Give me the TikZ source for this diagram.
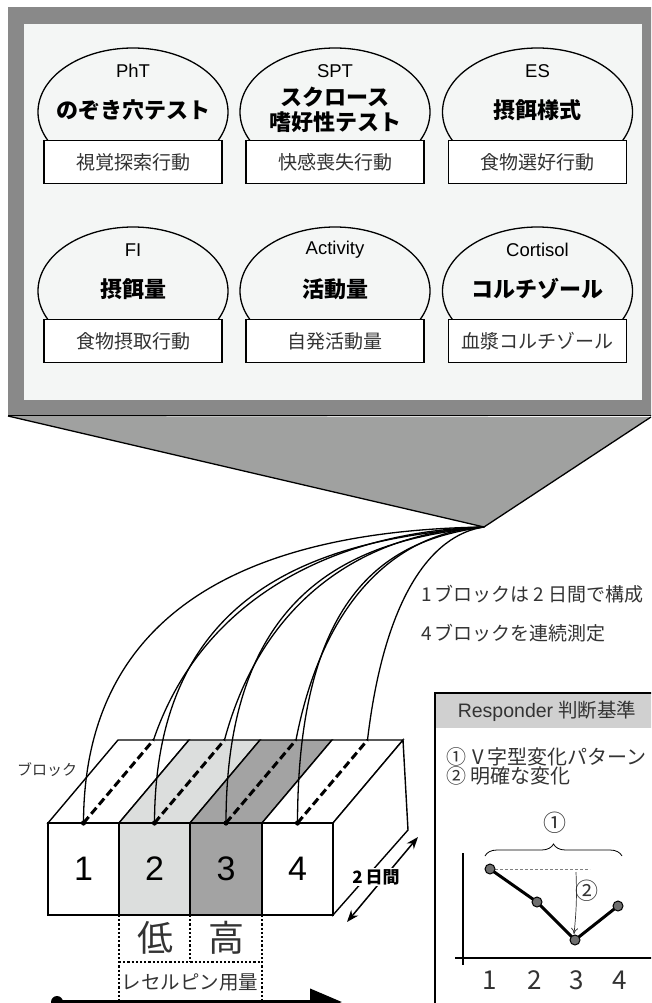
\documentclass[tikz,border=0pt]{standalone}
\usepackage{fontspec}
\usetikzlibrary{arrows.meta,decorations.pathreplacing,shapes.geometric}
\setmainfont{Liberation Sans}
\newfontfamily\jp{Noto Sans CJK JP}
\definecolor{framegray}{HTML}{898989}
\definecolor{panelbg}{HTML}{F4F6F5}
\definecolor{funnelgray}{HTML}{A0A1A0}
\definecolor{lightcell}{HTML}{DCDEDD}
\definecolor{darkcell}{HTML}{A3A3A3}
\definecolor{hdrgray}{HTML}{D0D0D0}
\definecolor{txtgray}{HTML}{333333}
\definecolor{markgray}{HTML}{6E6E6E}
\newcommand\measunit[6]{%
  \node[oval] (#1o) at (#2,#3) {};
  \node[subbox] (#1b) at (#2,#3+50) {#6};
  \node[latinlbl] (#1l) at (#2,#3-41) {#4};
  \node[titlelbl] (#1t) at (#2,#3-2) {#5};
}
\begin{document}
\begin{tikzpicture}[x=1pt,y=-1pt,
  oval/.style={draw, line width=1.3pt, ellipse, fill=panelbg, minimum width=190pt, minimum height=128pt, inner sep=0pt},
  subbox/.style={draw, line width=1.3pt, fill=white, minimum width=178pt, minimum height=43pt, inner sep=0pt, text=txtgray, font=\jp\fontsize{19}{22}\selectfont},
  latinlbl/.style={font=\fontsize{18.5}{20}\selectfont, inner sep=0pt},
  titlelbl/.style={font=\jp\bfseries\fontsize{22}{25}\selectfont, align=center, inner sep=0pt},
  edge/.style={line width=1.4pt},
  divider/.style={line width=2.2pt},
  dashline/.style={line width=3pt, dash pattern=on 8pt off 4pt},
  wire/.style={line width=1.3pt},
  dotline/.style={line width=1.2pt, dash pattern=on 2.2pt off 2pt},
  jplabel/.style={font=\jp\fontsize{19.5}{22}\selectfont, text=txtgray, inner sep=0pt},
  circlbl/.style={font=\jp\fontsize{23}{25}\selectfont, text=txtgray, inner sep=0pt},
  cellnum/.style={font=\fontsize{34}{36}\selectfont, inner sep=0pt},
  axisnum/.style={font=\jp\fontsize{26}{28}\selectfont, text=txtgray, inner sep=0pt},
  marker/.style={circle, fill=markgray, draw=black, line width=1pt, minimum size=10pt, inner sep=0pt}
]
\useasboundingbox (0,0) rectangle (651,1003);
\clip (0,0) rectangle (651,1003);

% ---------- funnel ----------
\coordinate (tip) at (484,527);
\coordinate (fl) at (8,416);
\coordinate (fr) at (651,417);
\fill[funnelgray] (fl) -- (tip) -- (fr) -- cycle;
\draw[line width=1.3pt] (fl) -- (tip) -- (fr);

% ---------- frame and panel ----------
\fill[framegray] (8,7) rectangle (660,416);
\fill[panelbg] (24,24) rectangle (642,400);
\draw[line width=1.5pt] (8,415.5) -- (660,415.5);

\measunit{pht}{133}{112}{PhT}{のぞき穴テスト}{視覚探索行動}
\measunit{spt}{335}{112}{SPT}{スクロース\\嗜好性テスト}{快感喪失行動}
\measunit{es}{537.5}{112}{ES}{摂餌様式}{食物選好行動}
\measunit{fi}{133}{291}{FI}{摂餌量}{食物摂取行動}
\measunit{act}{335}{291}{Activity}{活動量}{自発活動量}
\measunit{cor}{537.5}{291}{Cortisol}{コルチゾール}{血漿コルチゾール}

% ---------- block ----------
\coordinate (f0) at (48,823);  \coordinate (f1) at (119,823); \coordinate (f2) at (190,823);
\coordinate (f3) at (262,823); \coordinate (f4) at (333,823);
\coordinate (b0) at (118,740); \coordinate (b1) at (189,740); \coordinate (b2) at (260,740);
\coordinate (b3) at (332,740); \coordinate (b4) at (403,740);
\coordinate (g0) at (48,915);  \coordinate (g1) at (119,915); \coordinate (g2) at (190,915);
\coordinate (g3) at (262,915); \coordinate (g4) at (333,915);
\coordinate (rb) at (408,830);

\filldraw[edge, fill=white] (f0) -- (f1) -- (b1) -- (b0) -- cycle;
\filldraw[edge, fill=lightcell] (f1) -- (f2) -- (b2) -- (b1) -- cycle;
\filldraw[edge, fill=darkcell] (f2) -- (f3) -- (b3) -- (b2) -- cycle;
\filldraw[edge, fill=white] (f3) -- (f4) -- (b4) -- (b3) -- cycle;
\filldraw[edge, fill=white] (f4) -- (b4) -- (rb) -- (g4) -- cycle;
\filldraw[edge, fill=white] (f0) rectangle (g1);
\filldraw[edge, fill=lightcell] (f1) rectangle (g2);
\filldraw[edge, fill=darkcell] (f2) rectangle (g3);
\filldraw[edge, fill=white] (f3) rectangle (g4);
\draw[divider] (f1) -- (g1); \draw[divider] (f2) -- (g2); \draw[divider] (f3) -- (g3);

\node[cellnum] (n1) at (83.5,869) {1};
\node[cellnum] (n2) at (154.5,869) {2};
\node[cellnum] (n3) at (226,869) {3};
\node[cellnum] (n4) at (297.5,869) {4};

% dashed lines on top
\coordinate (ef1) at (83.5,823);  \coordinate (eb1) at (153.5,740);
\coordinate (ef2) at (154.5,823); \coordinate (eb2) at (224.5,740);
\coordinate (ef3) at (226,823);   \coordinate (eb3) at (296,740);
\coordinate (ef4) at (297.5,823); \coordinate (eb4) at (367.5,740);
\foreach \k in {1,2,3,4} { \draw[dashline] (ef\k) -- (eb\k); }

% wires from funnel tip
\draw[wire] (tip) .. controls (300,530) and (84,580) .. (ef1);
\draw[wire] (tip) .. controls (331,532) and (201,600) .. (eb1);
\draw[wire] (tip) .. controls (333,539) and (155,580) .. (ef2);
\draw[wire] (tip) .. controls (364,532) and (262,600) .. (eb2);
\draw[wire] (tip) .. controls (365,539) and (226,580) .. (ef3);
\draw[wire] (tip) .. controls (397,532) and (323,600) .. (eb3);
\draw[wire] (tip) .. controls (398,539) and (298,580) .. (ef4);
\draw[wire] (tip) .. controls (430,535) and (384,600) .. (eb4);
\foreach \k in {1,2,3,4} { \fill (ef\k) circle (2.6); }

\node[font=\jp\fontsize{15}{17}\selectfont, text=txtgray, inner sep=0pt] (blk) at (47,770) {ブロック};

% 2 days arrow
\coordinate (dA) at (347,922); \coordinate (dB) at (418,837);
\draw[line width=1.5pt, {Stealth[length=12pt,width=9pt]}-{Stealth[length=12pt,width=9pt]}] (dA) -- (dB);
\node[fill=white, inner sep=1pt, font=\jp\bfseries\fontsize{17}{19}\selectfont] (days) at (376,877) {2\hspace{3pt}日間};

% dose region
\coordinate (d1t) at (119,915); \coordinate (d1b) at (119,1005);
\coordinate (d2t) at (190,915); \coordinate (d2b) at (190,962);
\coordinate (d3t) at (262,915); \coordinate (d3b) at (262,1005);
\coordinate (hl) at (119,962); \coordinate (hr) at (262,962);
\draw[dotline] (d1t) -- (d1b); \draw[dotline] (d2t) -- (d2b); \draw[dotline] (d3t) -- (d3b);
\draw[dotline] (hl) -- (hr);
\node[font=\jp\fontsize{36}{38}\selectfont, text=txtgray, inner sep=0pt] (low) at (155,938) {低};
\node[font=\jp\fontsize{36}{38}\selectfont, text=txtgray, inner sep=0pt] (high) at (226,938) {高};
\node[jplabel] (dose) at (190,982) {レセルピン用量};

% time arrow
\coordinate (ts) at (57,1002); \coordinate (te) at (342,1002);
\draw[line width=4pt, -{Triangle[length=32pt,width=26pt]}] (ts) -- (te);
\fill (ts) circle (6);

% notes
\node[font=\jp\fontsize{19}{22}\selectfont, text=txtgray, inner sep=0pt, anchor=west] (note1) at (421,594) {1\hspace{3pt}ブロックは\hspace{4pt}2\hspace{4pt}日間で構成};
\node[font=\jp\fontsize{19}{22}\selectfont, text=txtgray, inner sep=0pt, anchor=west] (note2) at (421,633) {4\hspace{3pt}ブロックを連続測定};

% responder panel
\filldraw[line width=1.3pt, fill=white] (435,693) rectangle (665,1010);
\fill[hdrgray] (436,694) rectangle (660,728);
\node[font=\fontsize{19.5}{21}\selectfont, text=txtgray, inner sep=0pt] (hdr) at (547,711) {Responder\hspace{5pt}{\jp 判断基準}};
\node[font=\jp\fontsize{20}{22}\selectfont, text=txtgray, inner sep=0pt, anchor=west] (crit1) at (446,757) {①\hspace{6pt}V\hspace{4pt}字型変化パターン};
\node[font=\jp\fontsize{20}{22}\selectfont, text=txtgray, inner sep=0pt, anchor=west] (crit2) at (446,776) {②\hspace{4pt}明確な変化};

% chart
\coordinate (ya) at (463,853); \coordinate (yb) at (463,965);
\coordinate (xa) at (455,958); \coordinate (xb) at (660,958);
\draw[line width=1.8pt] (ya) -- (yb);
\draw[line width=1.8pt] (xa) -- (xb);
\coordinate (p1) at (490,869); \coordinate (p2) at (537,902);
\coordinate (p3) at (575,940); \coordinate (p4) at (618,906);
\coordinate (dashend) at (590,869);
\draw[line width=0.7pt, gray, dash pattern=on 3pt off 2pt] (p1) -- (dashend);
\draw[line width=3pt] (p1) -- (p2) -- (p3) -- (p4);
\node[marker] (m1) at (p1) {}; \node[marker] (m2) at (p2) {};
\node[marker] (m3) at (p3) {}; \node[marker] (m4) at (p4) {};
\coordinate (aa) at (576,872); \coordinate (ab) at (574,934);
\draw[line width=0.7pt, txtgray, -{To[length=6pt,width=7pt]}] (aa) to[bend left=4] (ab);
\node[circlbl] (c2lbl) at (587,891) {②};
\coordinate (br1) at (485,856); \coordinate (br2) at (622,856);
\draw[line width=0.8pt, decorate, decoration={brace, amplitude=12pt}] (br1) -- (br2);
\node[circlbl] (c1lbl) at (555,823) {①};
\node[axisnum] (x1) at (490,980) {1};
\node[axisnum] (x2) at (535,980) {2};
\node[axisnum] (x3) at (577,980) {3};
\node[axisnum] (x4) at (620,980) {4};
\end{tikzpicture}
\end{document}
